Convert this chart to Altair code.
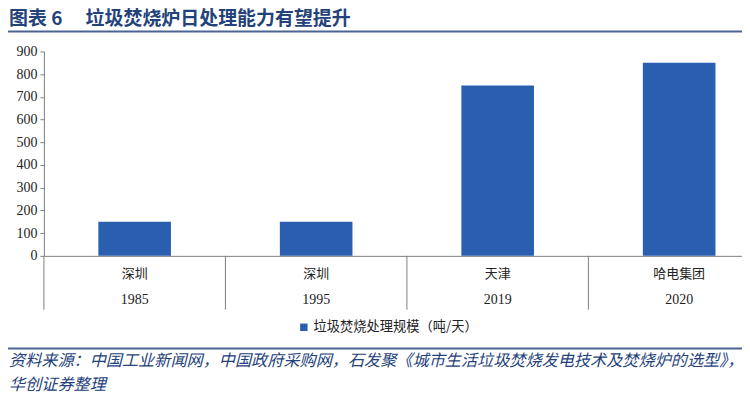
import altair as alt
import pandas as pd

cities = ["深圳", "深圳", "天津", "哈电集团"]
years = ["1985", "1995", "2019", "2020"]
values = [150, 150, 750, 850]
series_name = "垃圾焚烧处理规模（吨/天）"
title_text = ["图表 6　 垃圾焚烧炉日处理能力有望提升"]
source_line1 = ["资料来源：中国工业新闻网，中国政府采购网，石发聚《城市生活垃圾焚烧发电技术及焚烧炉的选型》，"]
source_line2 = ["华创证券整理"]
y_ticks = list(range(0, 1000, 100))

df = pd.DataFrame({
    "key": [c + "|" + y for c, y in zip(cities, years)],
    "city": cities,
    "year": years,
    "value": values,
    "series": [series_name] * len(values),
})

W, H = 700, 205
NAVY = "#24427A"
LINE = "#4A6592"
BAR = "#2A5FAF"
AXIS = "#808080"
SERIF = "Liberation Serif"
CJK = "Noto Sans CJK SC"

xscale = alt.Scale(range=[0, 728], paddingInner=0, paddingOuter=0)

bars = alt.Chart(df).mark_bar(width=alt.RelativeBandSize(0.4)).encode(
    x=alt.X("key:N", sort=None, scale=xscale, title=None,
            axis=alt.Axis(labels=False, ticks=False,
                          domainColor=AXIS, domainWidth=1)),
    y=alt.Y("value:Q", scale=alt.Scale(domain=[0, 900], nice=False), title=None,
            axis=alt.Axis(values=y_ticks, grid=False, tickSize=4, tickColor=AXIS,
                          domainColor=AXIS, labelFont=SERIF, labelFontSize=14,
                          labelColor="#222222", labelPadding=3)),
    color=alt.Color("series:N", scale=alt.Scale(range=[BAR]),
                    legend=alt.Legend(orient="none", legendX=254, legendY=270,
                                      title=None, symbolType="square",
                                      symbolSize=56, symbolStrokeWidth=0,
                                      labelFont=CJK, labelFontSize=13.3,
                                      labelLimit=400,
                                      labelColor="#222222", labelOffset=3)),
)

seps = alt.Chart(df).mark_rule(color=AXIS, strokeWidth=1).encode(
    x=alt.X("key:N", sort=None, bandPosition=0),
    y=alt.value(H),
    y2=alt.value(H + 54),
)

city_text = alt.Chart(df).mark_text(
    font=CJK, fontSize=13, color="#222222", baseline="middle").encode(
    x=alt.X("key:N", sort=None), text="city:N", y=alt.value(H + 18))

year_text = alt.Chart(df).mark_text(
    font=SERIF, fontSize=14, color="#222222", baseline="middle").encode(
    x=alt.X("key:N", sort=None), text="year:N", y=alt.value(H + 44))

title = alt.Chart(pd.DataFrame({"t": title_text})).mark_text(
    align="left", baseline="middle", font=CJK, fontWeight="bold",
    fontSize=19, color=NAVY,
).encode(text="t:N", x=alt.value(-35), y=alt.value(-32))

title_rule = alt.Chart(pd.DataFrame({"t": title_text})).mark_rule(
    color=LINE, strokeWidth=2).encode(x=alt.value(-36), x2=alt.value(702), y=alt.value(-20))

src_rule = alt.Chart(pd.DataFrame({"t": title_text})).mark_rule(
    color=LINE, strokeWidth=2).encode(x=alt.value(-36), x2=alt.value(702), y=alt.value(298))

src_style = dict(align="left", baseline="middle", font=CJK,
                 fontStyle="italic", fontSize=16.2, color=NAVY)
source1 = alt.Chart(pd.DataFrame({"t": source_line1})).mark_text(**src_style).encode(
    text="t:N", x=alt.value(-35), y=alt.value(310))
source2 = alt.Chart(pd.DataFrame({"t": source_line2})).mark_text(**src_style).encode(
    text="t:N", x=alt.value(-35), y=alt.value(335))

chart = alt.layer(bars, seps, city_text, year_text, title, title_rule, src_rule,
                  source1, source2).properties(
    width=W, height=H,
    autosize=alt.AutoSizeParams(type="none"),
    padding={"left": 36, "top": 43, "right": 0, "bottom": 140},
).configure_view(stroke=None)

chart.save("out.html", embed_options={"renderer": "svg", "actions": False})
